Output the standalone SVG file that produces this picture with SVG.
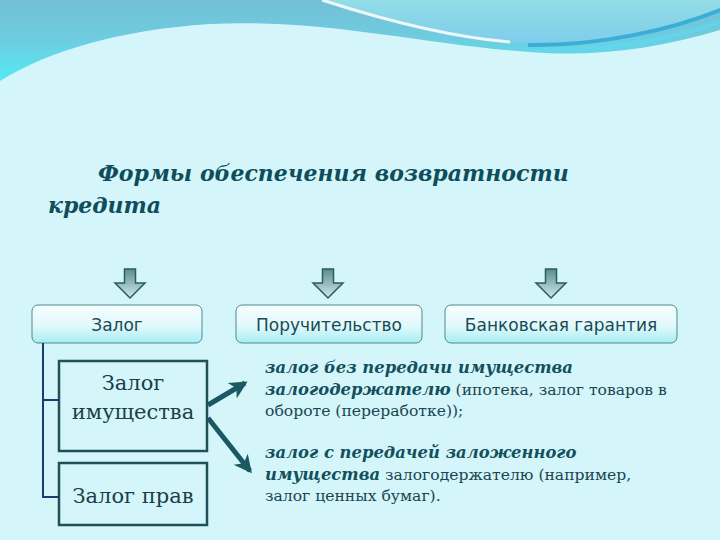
<svg xmlns="http://www.w3.org/2000/svg" width="720" height="540" viewBox="0 0 720 540">
<defs>
<linearGradient id="topg" x1="0" y1="0" x2="0" y2="1">
<stop offset="0" stop-color="#73c0d5"/>
<stop offset="0.45" stop-color="#6fcbdf"/>
<stop offset="1" stop-color="#55e8f5"/>
</linearGradient>
<linearGradient id="lightg" x1="0" y1="0" x2="0" y2="1">
<stop offset="0" stop-color="#92dde6"/>
<stop offset="1" stop-color="#7ecdeb"/>
</linearGradient>
<linearGradient id="boxg" x1="0" y1="0" x2="0" y2="1">
<stop offset="0" stop-color="#f6fdfe"/>
<stop offset="0.55" stop-color="#e2f9fb"/>
<stop offset="1" stop-color="#a6eef5"/>
</linearGradient>
<linearGradient id="arrg" x1="0" y1="0" x2="0" y2="1">
<stop offset="0" stop-color="#5d8c8e"/>
<stop offset="1" stop-color="#cfeaec"/>
</linearGradient>
<marker id="ah" markerUnits="userSpaceOnUse" markerWidth="20" markerHeight="20" refX="15" refY="9" orient="auto">
<path d="M0,0 L18,9 L0,18 L5,9 Z" fill="#1c5862"/>
</marker>
<style>
.tbox{fill:url(#boxg);stroke:#4d8a8f;stroke-width:1}
.tlab{font-family:"DejaVu Sans","Verdana",sans-serif;font-size:17px;fill:#1a4a55;text-anchor:middle}
.down{fill:url(#arrg);stroke:#2a5d62;stroke-width:1.5;stroke-linejoin:miter}
.bbox{fill:none;stroke:#1f4f57;stroke-width:2.5}
.blab{font-family:"DejaVu Serif","Liberation Serif",serif;font-size:21px;fill:#1a3f48;text-anchor:middle}
.tree{fill:none;stroke:#1b3c6e;stroke-width:2}
.conn{fill:none;stroke:#1c5862;stroke-width:5}
.bi{font-family:"DejaVu Serif","Liberation Serif",serif;font-weight:bold;font-style:italic;font-size:16.4px;fill:#12505c}
.rg{font-family:"DejaVu Serif","Liberation Serif",serif;font-size:15.6px;fill:#1a4550}
.title{font-family:"DejaVu Serif","Liberation Serif",serif;font-weight:bold;font-style:italic;font-size:22px;fill:#0f4d5c}
</style>
</defs>
<rect width="720" height="540" fill="#d4f6fb"/>
<g id="header">
<path d="M0,0 H720 V30 C660,48 600,56 545,53 C430,47 330,18 210,24 C120,30 50,50 0,81 Z" fill="url(#topg)"/>
<path d="M322,0 C400,24 460,40 512,43 C590,46 670,32 720,8 V0 Z" fill="url(#lightg)"/>
<path d="M322,0 C390,22 450,37 510,42" fill="none" stroke="#ffffff" stroke-width="3" opacity="0.85"/>
<path d="M528,45 C600,46 670,30 720,10" fill="none" stroke="#3aaed6" stroke-width="4"/>
<path d="M530,50 C600,52 670,40 720,22" fill="none" stroke="#5fd8ee" stroke-width="4" opacity="0.7"/>
</g>
<g id="title">
<text class="title" x="98" y="181">Формы обеспечения возвратности</text>
<text class="title" x="48" y="213">кредита</text>
</g>
<g id="arrow-zalog"><path class="down" d="M124.5,269 H135.5 V283 H145 L130,298 L115,283 H124.5 Z"/></g>
<g id="arrow-poruch"><path class="down" d="M322.5,269 H333.5 V283 H343 L328,298 L313,283 H322.5 Z"/></g>
<g id="arrow-bank"><path class="down" d="M545.5,269 H556.5 V283 H566 L551,298 L536,283 H545.5 Z"/></g>
<g id="node-zalog">
<rect class="tbox" x="32" y="305" width="170" height="38" rx="6"/>
<text class="tlab" x="117" y="331">Залог</text>
</g>
<g id="node-poruch">
<rect class="tbox" x="236" y="305" width="186" height="38" rx="6"/>
<text class="tlab" x="329" y="331">Поручительство</text>
</g>
<g id="node-bank">
<rect class="tbox" x="445" y="305" width="232" height="38" rx="6"/>
<text class="tlab" x="561" y="331">Банковская гарантия</text>
</g>
<g id="node-imush">
<rect class="bbox" x="59" y="361" width="148" height="90"/>
<text class="blab" x="133" y="390">Залог</text>
<text class="blab" x="133" y="419">имущества</text>
</g>
<g id="node-prav">
<rect class="bbox" x="59" y="463" width="148" height="62"/>
<text class="blab" x="133" y="503">Залог прав</text>
</g>
<g id="text-1">
<text class="bi" x="265" y="373">залог без передачи имущества</text>
<text x="265" y="395"><tspan class="bi">залогодержателю</tspan><tspan class="rg"> (ипотека, залог товаров в</tspan></text>
<text class="rg" x="265" y="416">обороте (переработке));</text>
</g>
<g id="text-2">
<text class="bi" x="265" y="458">залог с передачей заложенного</text>
<text x="265" y="480"><tspan class="bi">имущества</tspan><tspan class="rg"> залогодержателю (например,</tspan></text>
<text class="rg" x="265" y="501">залог ценных бумаг).</text>
</g>
<g id="connectors">
<path class="tree" d="M43,343 V497 H59 M43,400 H59"/>
<line class="conn" x1="208" y1="405" x2="245" y2="383" marker-end="url(#ah)"/>
<line class="conn" x1="208" y1="418" x2="250" y2="471" marker-end="url(#ah)"/>
</g>
</svg>
